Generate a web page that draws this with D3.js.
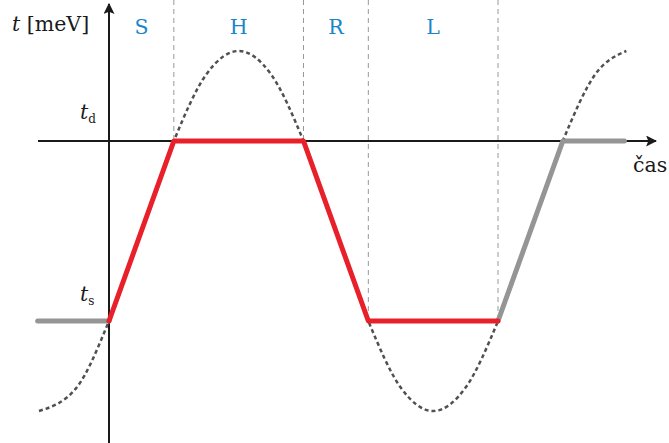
<!DOCTYPE html>
<html>
<head>
<meta charset="UTF-8">
<title>t(čas)</title>
<style>
body { margin: 0; background: #fff; }
</style>
</head>
<body>
<div id="chart"></div>
<script src="https://cdnjs.cloudflare.com/ajax/libs/d3/7.8.2/d3.min.js"></script>
<script>
// phases (time in units of one ramp length)
var phaseNames = ["S", "H", "R", "L"];
var phaseStart = [0, 1, 3, 4];
var phaseEnd = [1, 3, 4, 6];
// dashed phase boundaries: time and the level where the guide stops
var boundT = [1, 3, 4, 6];
var boundV = [1, 1, 0, 0];

// hopping amplitude, one cycle (red) and the repeated parts (gray)
var redT = [0, 1, 3, 4, 6];
var redV = [0, 1, 1, 0, 0];
var grayLeftT = [-1.1, 0];
var grayLeftV = [0, 0];
var grayRightT = [6, 7, 7.95];
var grayRightV = [0, 1, 1];

// dashed oscillation
var waveT = [-1.08, -0.5, 0, 0.5, 1, 1.5, 2, 2.5, 3, 3.5, 4, 4.5, 5, 5.5, 6, 6.5, 7, 7.5, 7.98];
var waveV = [-0.5, -0.37, 0, 0.5, 1, 1.37, 1.5, 1.37, 1, 0.5, 0, -0.37, -0.5, -0.37, 0, 0.5, 1, 1.37, 1.5];

var width = 669, height = 443;
var serif = "'DejaVu Serif', 'Liberation Serif', serif";
var fs = 20.5;

var x = d3.scaleLinear().domain([0, 6]).range([109, 498]);
var y = d3.scaleLinear().domain([0, 1]).range([321, 141]);

var svg = d3.select("#chart")
  .append("svg")
  .attr("width", width)
  .attr("height", height)
  .style("font-family", serif);

svg.append("defs").append("marker")
  .attr("id", "arrow")
  .attr("viewBox", "0 0 10 10")
  .attr("refX", 9)
  .attr("refY", 5)
  .attr("markerWidth", 11)
  .attr("markerHeight", 11)
  .attr("markerUnits", "userSpaceOnUse")
  .attr("orient", "auto")
  .append("path")
  .attr("d", "M0,0 L10,5 L0,10 L2,5 Z")
  .attr("fill", "#1a1a1a");

// dashed phase boundaries
boundT.forEach(function(t, i) {
  svg.append("line")
    .attr("x1", x(t)).attr("x2", x(t))
    .attr("y1", 0).attr("y2", y(boundV[i]))
    .attr("stroke", "#999")
    .attr("stroke-width", 1)
    .attr("stroke-dasharray", "5,4");
});

// axes
svg.append("line")
  .attr("x1", 38).attr("x2", 656)
  .attr("y1", y(1)).attr("y2", y(1))
  .attr("stroke", "#1a1a1a").attr("stroke-width", 2)
  .attr("marker-end", "url(#arrow)");
svg.append("line")
  .attr("x1", x(0)).attr("x2", x(0))
  .attr("y1", height).attr("y2", 4)
  .attr("stroke", "#1a1a1a").attr("stroke-width", 2)
  .attr("marker-end", "url(#arrow)");

// oscillation
var wave = d3.line()
  .x(function(d, i) { return x(waveT[i]); })
  .y(function(d) { return y(d); })
  .curve(d3.curveMonotoneX);
svg.append("path")
  .attr("d", wave(waveV))
  .attr("fill", "none")
  .attr("stroke", "#505050")
  .attr("stroke-width", 2.5)
  .attr("stroke-dasharray", "4,3");

function seg(ts, vs, color) {
  var line = d3.line()
    .x(function(d, i) { return x(ts[i]); })
    .y(function(d) { return y(d); });
  svg.append("path")
    .attr("d", line(vs))
    .attr("fill", "none")
    .attr("stroke", color)
    .attr("stroke-width", 5)
    .attr("stroke-linejoin", "round")
    .attr("stroke-linecap", "round");
}
seg(grayLeftT, grayLeftV, "#959595");
seg(grayRightT, grayRightV, "#959595");
seg(redT, redV, "#e8202a");

// phase labels
phaseNames.forEach(function(n, i) {
  svg.append("text")
    .attr("x", x((phaseStart[i] + phaseEnd[i]) / 2))
    .attr("y", 34)
    .attr("text-anchor", "middle")
    .attr("font-family", serif)
    .attr("font-size", fs)
    .attr("fill", "#1a86c8")
    .text(n);
});

// axis labels
var yl = svg.append("text").attr("x", 12).attr("y", 31)
  .attr("font-family", serif).attr("font-size", fs).attr("fill", "#1a1a1a");
yl.append("tspan").attr("font-style", "italic").text("t");
yl.append("tspan").text(" [meV]");

svg.append("text")
  .attr("x", 633).attr("y", 172)
  .attr("font-family", serif)
  .attr("font-size", fs).attr("fill", "#1a1a1a")
  .text("čas");

function sub(xp, yp, s) {
  var t = svg.append("text").attr("x", xp).attr("y", yp)
    .attr("font-family", serif).attr("font-size", fs).attr("fill", "#1a1a1a");
  t.append("tspan").attr("font-style", "italic").text("t");
  t.append("tspan").attr("font-size", 12).attr("dy", 4).text(s);
}
sub(80, y(1) - 22, "d");
sub(80, y(0) - 20, "s");
</script>
</body>
</html>
